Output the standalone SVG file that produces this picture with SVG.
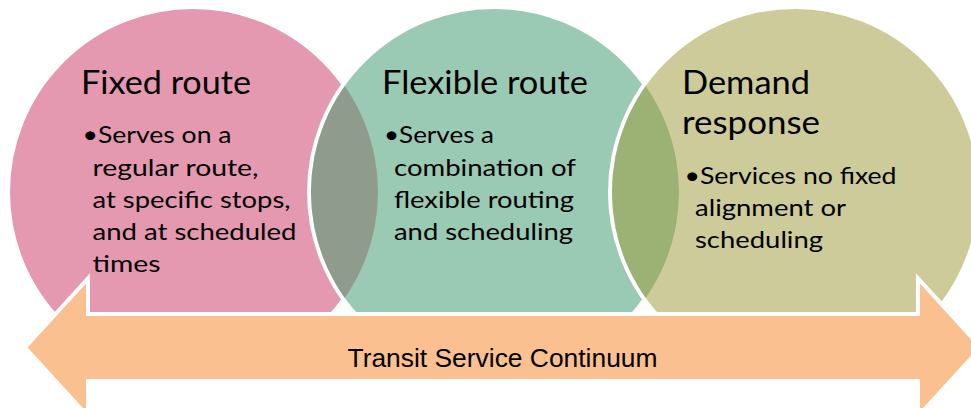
<svg xmlns="http://www.w3.org/2000/svg" width="971" height="408" viewBox="0 0 971 408">
<style>
.bg{fill:#ffffff}
.ring{stroke:#ffffff;stroke-width:4}
.title{font-family:Lato,"Open Sans","Liberation Sans",sans-serif;font-size:32px;fill:#000000}
.body{font-family:Lato,"Open Sans","Liberation Sans",sans-serif;font-size:23.7px;fill:#000000}
.label{font-family:"Liberation Sans",Arial,sans-serif;font-size:26.4px;fill:#000000}
</style>
<defs>
<clipPath id="inC2"><circle cx="494" cy="192" r="183"/></clipPath>
<clipPath id="inC3"><circle cx="795" cy="192" r="183"/></clipPath>
</defs>
<rect class="bg" x="0" y="0" width="971" height="408"/>
<g id="node-fixed-route">
<circle class="ring" cx="193" cy="192" r="185" fill="#E499B1"/>
<text class="title" x="81" y="94" textLength="170" lengthAdjust="spacingAndGlyphs">Fixed route</text>
<text class="body" x="82.5" y="143" textLength="149" lengthAdjust="spacingAndGlyphs">•Serves on a</text>
<text class="body" x="92.5" y="175.5" textLength="166" lengthAdjust="spacingAndGlyphs">regular route,</text>
<text class="body" x="92.5" y="207.5" textLength="198" lengthAdjust="spacingAndGlyphs">at specific stops,</text>
<text class="body" x="92.5" y="239.5" textLength="204" lengthAdjust="spacingAndGlyphs">and at scheduled</text>
<text class="body" x="92.5" y="271.5" textLength="68" lengthAdjust="spacingAndGlyphs">times</text>
</g>
<g id="node-flexible-route">
<circle class="ring" cx="494" cy="192" r="185" fill="#9AC9B4"/>
<circle cx="193" cy="192" r="185" fill="#8E9B8D" clip-path="url(#inC2)"/>
<text class="title" x="382" y="93.5" textLength="206" lengthAdjust="spacingAndGlyphs">Flexible route</text>
<text class="body" x="384" y="143" textLength="110" lengthAdjust="spacingAndGlyphs">•Serves a</text>
<text class="body" x="394" y="176" textLength="182" lengthAdjust="spacingAndGlyphs">combination of</text>
<text class="body" x="394" y="208" textLength="180" lengthAdjust="spacingAndGlyphs">flexible routing</text>
<text class="body" x="394" y="240" textLength="179" lengthAdjust="spacingAndGlyphs">and scheduling</text>
</g>
<g id="node-demand-response">
<circle class="ring" cx="795" cy="192" r="185" fill="#CCCB99"/>
<circle cx="494" cy="192" r="185" fill="#9BB274" clip-path="url(#inC3)"/>
<text class="title" x="682" y="94" textLength="128" lengthAdjust="spacingAndGlyphs">Demand</text>
<text class="title" x="682" y="134" textLength="138" lengthAdjust="spacingAndGlyphs">response</text>
<text class="body" x="684.5" y="184" textLength="212" lengthAdjust="spacingAndGlyphs">•Services no fixed</text>
<text class="body" x="695" y="216" textLength="151" lengthAdjust="spacingAndGlyphs">alignment or</text>
<text class="body" x="695" y="248" textLength="128" lengthAdjust="spacingAndGlyphs">scheduling</text>
</g>
<g id="connectors">
<polygon points="25,347.5 88,278.5 88,314 918,314 918,278.5 981,347.5 918,416.5 918,381 88,381 88,416.5" fill="#FAC090" stroke="#ffffff" stroke-width="4" stroke-linejoin="miter"/>
<text class="label" x="502.5" y="367" text-anchor="middle">Transit Service Continuum</text>
</g>
</svg>
